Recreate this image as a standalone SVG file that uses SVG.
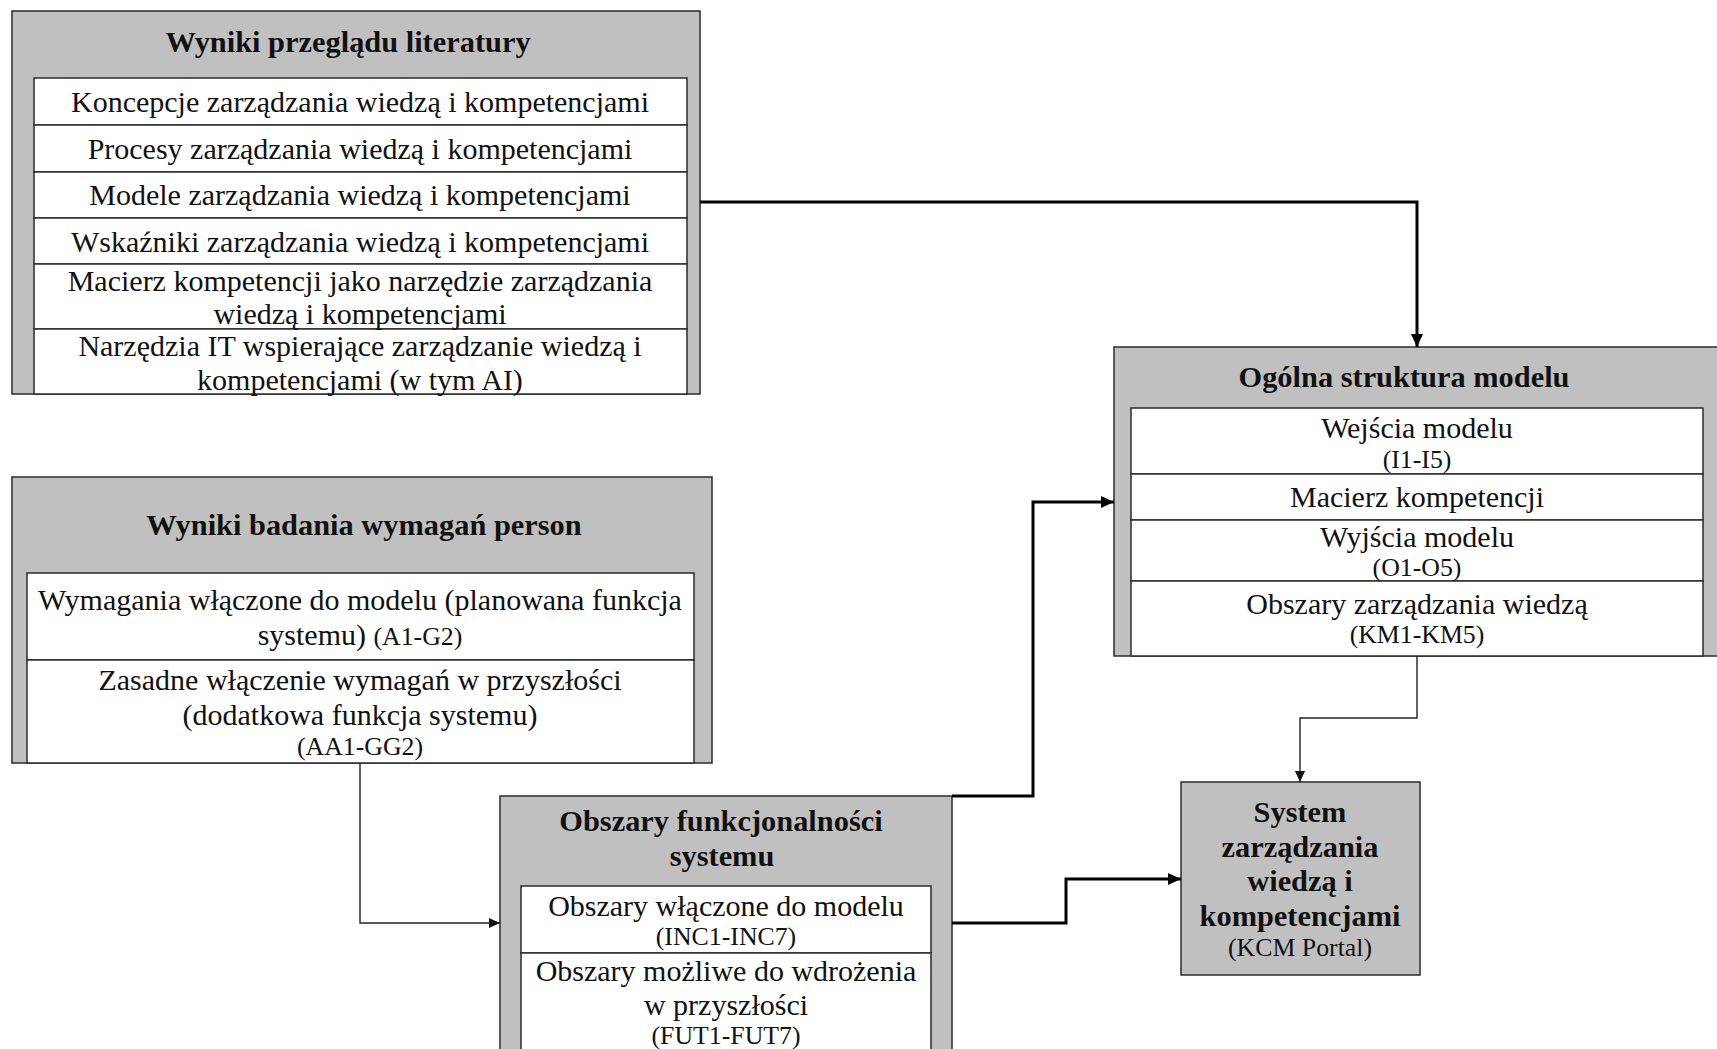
<svg xmlns="http://www.w3.org/2000/svg" width="1717" height="1049" viewBox="0 0 1717 1049">
  <style>
    .panel { fill: #c0c0c0; stroke: #2b2b2b; stroke-width: 1.5; }
    .cell { fill: #ffffff; stroke: #2b2b2b; stroke-width: 1.5; }
    .title { font-family: "Liberation Serif", "Times New Roman", serif; font-weight: bold; font-size: 30.4px; fill: #111; text-anchor: middle; }
    .body { font-family: "Liberation Serif", "Times New Roman", serif; font-size: 30px; fill: #111; text-anchor: middle; }
    .code { font-family: "Liberation Serif", "Times New Roman", serif; font-size: 25.8px; fill: #111; text-anchor: middle; }
    .thick { fill: none; stroke: #000; stroke-width: 3; }
    .thin { fill: none; stroke: #222; stroke-width: 1.4; }
  </style>
  <defs>
    <marker id="arrowBig" markerUnits="userSpaceOnUse" markerWidth="14" markerHeight="12" refX="13" refY="6" orient="auto">
      <path d="M0,0 L13,6 L0,12 Z" fill="#000"/>
    </marker>
    <marker id="arrowSmall" markerUnits="userSpaceOnUse" markerWidth="12" markerHeight="10" refX="11" refY="5" orient="auto">
      <path d="M0,0 L11,5 L0,10 Z" fill="#111"/>
    </marker>
  </defs>

  <rect width="1717" height="1049" fill="#ffffff"/>

  <!-- Literature review results -->
  <g id="literature">
    <rect class="panel" x="12" y="11" width="688" height="383"/>
    <text class="title" x="348" y="52">Wyniki przeglądu literatury</text>
    <rect class="cell" x="34" y="78" width="653" height="47"/>
    <rect class="cell" x="34" y="125" width="653" height="47"/>
    <rect class="cell" x="34" y="172" width="653" height="46"/>
    <rect class="cell" x="34" y="218" width="653" height="46"/>
    <rect class="cell" x="34" y="264" width="653" height="65"/>
    <rect class="cell" x="34" y="329" width="653" height="65"/>
    <text class="body" x="360" y="112">Koncepcje zarządzania wiedzą i kompetencjami</text>
    <text class="body" x="360" y="159">Procesy zarządzania wiedzą i kompetencjami</text>
    <text class="body" x="360" y="205">Modele zarządzania wiedzą i kompetencjami</text>
    <text class="body" x="360" y="252">Wskaźniki zarządzania wiedzą i kompetencjami</text>
    <text class="body" x="360" y="291">Macierz kompetencji jako narzędzie zarządzania</text>
    <text class="body" x="360" y="324">wiedzą i kompetencjami</text>
    <text class="body" x="360" y="356">Narzędzia IT wspierające zarządzanie wiedzą i</text>
    <text class="body" x="360" y="390">kompetencjami (w tym AI)</text>
  </g>

  <!-- Persona requirements study results -->
  <g id="requirements">
    <rect class="panel" x="12" y="477" width="700" height="286"/>
    <text class="title" x="364" y="535">Wyniki badania wymagań person</text>
    <rect class="cell" x="27" y="573" width="667" height="87"/>
    <rect class="cell" x="27" y="660" width="667" height="103"/>
    <text class="body" x="360" y="610">Wymagania włączone do modelu (planowana funkcja</text>
    <text class="body" x="360" y="645">systemu) <tspan style="font-size:25.8px">(A1-G2)</tspan></text>
    <text class="body" x="360" y="690">Zasadne włączenie wymagań w przyszłości</text>
    <text class="body" x="360" y="725">(dodatkowa funkcja systemu)</text>
    <text class="code" x="360" y="755">(AA1-GG2)</text>
  </g>

  <!-- General model structure -->
  <g id="model-structure">
    <rect class="panel" x="1114" y="347" width="620" height="309"/>
    <text class="title" x="1404" y="387">Ogólna struktura modelu</text>
    <rect class="cell" x="1131" y="408" width="572" height="66"/>
    <rect class="cell" x="1131" y="474" width="572" height="46"/>
    <rect class="cell" x="1131" y="520" width="572" height="61"/>
    <rect class="cell" x="1131" y="581" width="572" height="75"/>
    <text class="body" x="1417" y="438">Wejścia modelu</text>
    <text class="code" x="1417" y="468">(I1-I5)</text>
    <text class="body" x="1417" y="507">Macierz kompetencji</text>
    <text class="body" x="1417" y="547">Wyjścia modelu</text>
    <text class="code" x="1417" y="576">(O1-O5)</text>
    <text class="body" x="1417" y="614">Obszary zarządzania wiedzą</text>
    <text class="code" x="1417" y="643">(KM1-KM5)</text>
  </g>

  <!-- System functionality areas -->
  <g id="functionality">
    <rect class="panel" x="500" y="796" width="452" height="270"/>
    <text class="title" x="721" y="831">Obszary funkcjonalności</text>
    <text class="title" x="722" y="866">systemu</text>
    <rect class="cell" x="521" y="886" width="410" height="67"/>
    <rect class="cell" x="521" y="953" width="410" height="113"/>
    <text class="body" x="726" y="916">Obszary włączone do modelu</text>
    <text class="code" x="726" y="945">(INC1-INC7)</text>
    <text class="body" x="726" y="981">Obszary możliwe do wdrożenia</text>
    <text class="body" x="726" y="1015">w przyszłości</text>
    <text class="code" x="726" y="1044">(FUT1-FUT7)</text>
  </g>

  <!-- Resulting system -->
  <g id="kcm-portal">
    <rect class="panel" x="1181" y="782" width="239" height="193"/>
    <text class="title" x="1300" y="822">System</text>
    <text class="title" x="1300" y="857">zarządzania</text>
    <text class="title" x="1300" y="891">wiedzą i</text>
    <text class="title" x="1300" y="926">kompetencjami</text>
    <text class="code" x="1300" y="956">(KCM Portal)</text>
  </g>

  <!-- Connectors -->
  <g id="connectors">
    <path class="thick" d="M700,202 H1417 V347" marker-end="url(#arrowBig)"/>
    <path class="thin" d="M360,763 V923 H500" marker-end="url(#arrowSmall)"/>
    <path class="thick" d="M952,796 H1033 V502 H1114" marker-end="url(#arrowBig)"/>
    <path class="thick" d="M952,923 H1066 V879 H1181" marker-end="url(#arrowBig)"/>
    <path class="thin" d="M1417,656 V718 H1300 V782" marker-end="url(#arrowSmall)"/>
  </g>
</svg>
